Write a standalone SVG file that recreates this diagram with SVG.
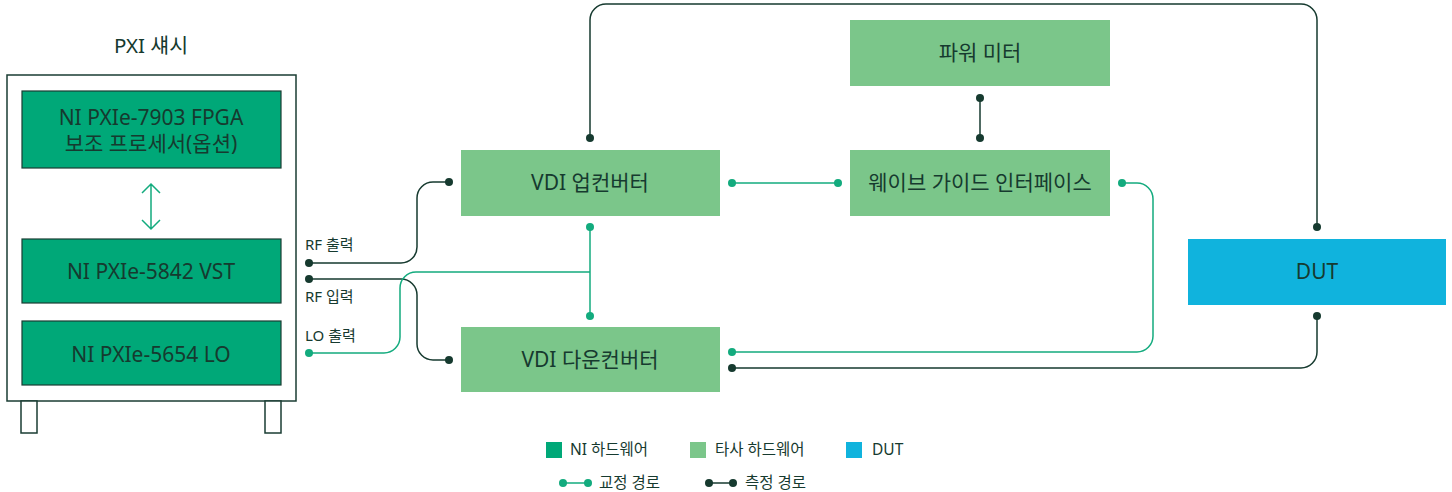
<svg xmlns="http://www.w3.org/2000/svg" width="1452" height="492" viewBox="0 0 1452 492">
<style>
text{font-family:"Noto Sans","Noto Sans CJK KR",sans-serif;fill:#163a2f}
.t{font-size:21px;text-anchor:middle}
.s{font-size:15px}
.l{font-size:15.5px}
.ni{fill:#00a878;stroke:#1a3d33;stroke-width:1.2}
.tp{fill:#7bc68a}
.dut{fill:#10b3dd}
.cal{fill:none;stroke:#13ab7e;stroke-width:1.5}
.mea{fill:none;stroke:#163a2f;stroke-width:1.5}
.dc{fill:#13ab7e}
.dm{fill:#163a2f}
</style>
<g id="chassis">
<text x="151" y="53" style="font-size:20.5px;text-anchor:middle">PXI 섀시</text>
<rect x="7" y="75" width="289" height="326" fill="#fff" stroke="#1a3d33" stroke-width="1.5"/>
<rect x="21" y="401" width="16" height="32" fill="#fff" stroke="#1a3d33" stroke-width="1.5"/>
<rect x="265" y="401" width="16" height="32" fill="#fff" stroke="#1a3d33" stroke-width="1.5"/>
</g>
<g id="fpga">
<rect class="ni" x="22" y="91" width="259" height="77"/>
<text class="t" x="151" y="125">NI PXIe-7903 FPGA</text>
<text class="t" x="151" y="151">보조 프로세서(옵션)</text>
</g>
<g id="vst">
<rect class="ni" x="22" y="239" width="259" height="64"/>
<text class="t" x="151" y="279">NI PXIe-5842 VST</text>
</g>
<g id="lo">
<rect class="ni" x="22" y="321" width="259" height="64"/>
<text class="t" x="151" y="362">NI PXIe-5654 LO</text>
</g>
<g id="upconverter">
<rect class="tp" x="461" y="150" width="259" height="66"/>
<text class="t" x="590" y="190">VDI 업컨버터</text>
</g>
<g id="downconverter">
<rect class="tp" x="461" y="327" width="259" height="65"/>
<text class="t" x="590" y="367">VDI 다운컨버터</text>
</g>
<g id="powermeter">
<rect class="tp" x="850" y="20" width="260" height="66"/>
<text class="t" x="980" y="60">파워 미터</text>
</g>
<g id="waveguide">
<rect class="tp" x="850" y="150" width="260" height="66"/>
<text class="t" x="980" y="190">웨이브 가이드 인터페이스</text>
</g>
<g id="dut">
<rect class="dut" x="1188" y="239" width="258" height="66"/>
<text class="t" x="1317" y="279">DUT</text>
</g>
<g id="port-labels">
<text class="s" x="305" y="250">RF 출력</text>
<text class="s" x="305" y="302">RF 입력</text>
<text class="s" x="305" y="341">LO 출력</text>
</g>
<g id="connectors">
<path d="M151,184 V229 M142,193 L151,184 L160,193 M142,220 L151,229 L160,220" fill="none" stroke="#13ab7e" stroke-width="1.5"/>
<path class="mea" d="M309,263 H401 A16,16 0 0 0 417,247 V198 A16,16 0 0 1 433,182 H449"/>
<path class="mea" d="M309,279 H401 A16,16 0 0 1 417,295 V344 A16,16 0 0 0 433,360 H449"/>
<path class="cal" d="M309,353 H384 A16,16 0 0 0 400,337 V288 A16,16 0 0 1 416,272 H590"/>
<path class="cal" d="M590,227 V316"/>
<path class="cal" d="M732,183 H838"/>
<path class="cal" d="M1122,183 H1137 A16,16 0 0 1 1153,199 V336 A16,16 0 0 1 1137,352 H732"/>
<path class="mea" d="M1317,316 V352 A16,16 0 0 1 1301,368 H732"/>
<path class="mea" d="M590,138 V20 A16,16 0 0 1 606,4 H1301 A16,16 0 0 1 1317,20 V227"/>
<path class="mea" d="M980,98 V138"/>
<circle class="dm" cx="309" cy="263" r="4"/>
<circle class="dm" cx="309" cy="279" r="4"/>
<circle class="dc" cx="309" cy="353" r="4"/>
<circle class="dm" cx="449" cy="182" r="4"/>
<circle class="dm" cx="449" cy="360" r="4"/>
<circle class="dc" cx="590" cy="227" r="4"/>
<circle class="dc" cx="590" cy="316" r="4"/>
<circle class="dc" cx="732" cy="183" r="4"/>
<circle class="dc" cx="838" cy="183" r="4"/>
<circle class="dc" cx="1122" cy="183" r="4"/>
<circle class="dc" cx="732" cy="352" r="4"/>
<circle class="dm" cx="732" cy="368" r="4"/>
<circle class="dm" cx="1317" cy="316" r="4"/>
<circle class="dm" cx="1317" cy="227" r="4"/>
<circle class="dm" cx="590" cy="138" r="4"/>
<circle class="dm" cx="980" cy="98" r="4"/>
<circle class="dm" cx="980" cy="138" r="4"/>
</g>
<g id="legend">
<rect x="546" y="442" width="16" height="16" fill="#00a878"/>
<text class="l" x="570" y="455">NI 하드웨어</text>
<rect x="690" y="442" width="16" height="16" fill="#7bc68a"/>
<text class="l" x="715" y="455">타사 하드웨어</text>
<rect x="846" y="442" width="16" height="16" fill="#10b3dd"/>
<text class="l" x="872" y="455">DUT</text>
<path class="cal" d="M563,483 H588"/>
<circle class="dc" cx="563" cy="483" r="4"/>
<circle class="dc" cx="588" cy="483" r="4"/>
<text class="l" x="599" y="488">교정 경로</text>
<path class="mea" d="M709,483 H733"/>
<circle class="dm" cx="709" cy="483" r="4"/>
<circle class="dm" cx="733" cy="483" r="4"/>
<text class="l" x="745" y="488">측정 경로</text>
</g>
</svg>
